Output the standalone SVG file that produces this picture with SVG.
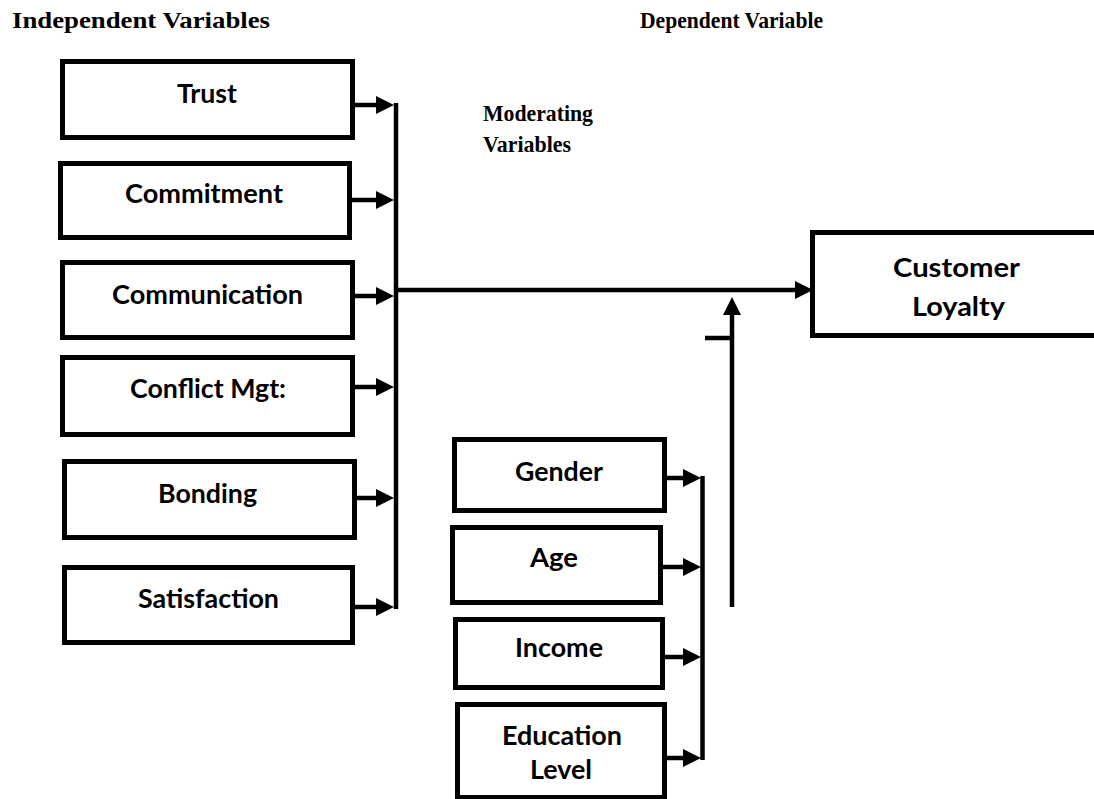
<svg xmlns="http://www.w3.org/2000/svg" width="1094" height="799" viewBox="0 0 1094 799">
<style>
.box{fill:#fff;stroke:#000;stroke-width:5}
.lbl{font-family:Lato,"Open Sans",sans-serif;font-weight:700;font-size:26px;fill:#000;text-anchor:middle}
.hdr{font-family:"Liberation Serif","Times New Roman",serif;font-weight:700;font-size:24px;fill:#000}
.con{fill:none;stroke:#000;stroke-width:4.5}
</style>
<defs>
<marker id="ah" viewBox="0 -10 19 20" markerWidth="19" markerHeight="20" refX="0" refY="0" markerUnits="userSpaceOnUse" orient="auto">
<polygon points="0,-9 18,0 0,9" fill="#000"/>
</marker>
</defs>
<rect width="1094" height="799" fill="#fff"/>

<g id="headers">
<text class="hdr" x="12" y="28" textLength="258" lengthAdjust="spacingAndGlyphs">Independent Variables</text>
<text class="hdr" x="640" y="28" textLength="183" lengthAdjust="spacingAndGlyphs">Dependent Variable</text>
<text class="hdr" x="483" y="121" textLength="110" lengthAdjust="spacingAndGlyphs">Moderating</text>
<text class="hdr" x="483" y="152" textLength="88" lengthAdjust="spacingAndGlyphs">Variables</text>
</g>

<g id="trust"><rect class="box" x="62.5" y="61.5" width="290" height="76"/><text class="lbl" x="207" y="103" textLength="60" lengthAdjust="spacingAndGlyphs">Trust</text></g>
<g id="commitment"><rect class="box" x="60.5" y="163.5" width="289" height="74"/><text class="lbl" x="204" y="203" textLength="158" lengthAdjust="spacingAndGlyphs">Commitment</text></g>
<g id="communication"><rect class="box" x="62.5" y="262.5" width="290" height="75"/><text class="lbl" x="207.5" y="304" textLength="191" lengthAdjust="spacingAndGlyphs">Communication</text></g>
<g id="conflict"><rect class="box" x="62.5" y="357.5" width="290" height="77"/><text class="lbl" x="208" y="398" textLength="156" lengthAdjust="spacingAndGlyphs">Conflict Mgt:</text></g>
<g id="bonding"><rect class="box" x="64.5" y="461.5" width="290" height="76"/><text class="lbl" x="207.5" y="503" textLength="99" lengthAdjust="spacingAndGlyphs">Bonding</text></g>
<g id="satisfaction"><rect class="box" x="64.5" y="567.5" width="288" height="75"/><text class="lbl" x="208.5" y="608" textLength="141" lengthAdjust="spacingAndGlyphs">Satisfaction</text></g>

<g id="gender"><rect class="box" x="454.5" y="439.5" width="210" height="71"/><text class="lbl" x="559" y="481" textLength="88" lengthAdjust="spacingAndGlyphs">Gender</text></g>
<g id="age"><rect class="box" x="452.5" y="527.5" width="208" height="75"/><text class="lbl" x="554" y="567" textLength="48" lengthAdjust="spacingAndGlyphs">Age</text></g>
<g id="income"><rect class="box" x="455.5" y="619.5" width="207" height="68"/><text class="lbl" x="559" y="657" textLength="88" lengthAdjust="spacingAndGlyphs">Income</text></g>
<g id="education"><rect class="box" x="457.5" y="704.5" width="207" height="93"/><text class="lbl" x="562" y="745" textLength="120" lengthAdjust="spacingAndGlyphs">Education</text><text class="lbl" x="561" y="779" textLength="62" lengthAdjust="spacingAndGlyphs">Level</text></g>

<g id="loyalty"><rect class="box" x="812.5" y="232.5" width="290" height="103"/><text class="lbl" x="956.5" y="277" textLength="127" lengthAdjust="spacingAndGlyphs">Customer</text><text class="lbl" x="958.5" y="316" textLength="93" lengthAdjust="spacingAndGlyphs">Loyalty</text></g>

<g id="connectors">
<path class="con" d="M355 105H376" marker-end="url(#ah)"/>
<path class="con" d="M352 200H376" marker-end="url(#ah)"/>
<path class="con" d="M355 296H376" marker-end="url(#ah)"/>
<path class="con" d="M355 387H376" marker-end="url(#ah)"/>
<path class="con" d="M357 498H376" marker-end="url(#ah)"/>
<path class="con" d="M355 607H376" marker-end="url(#ah)"/>
<path class="con" d="M396 103V609" stroke-width="5"/>
<path class="con" d="M396 290H795" marker-end="url(#ah)"/>
<path class="con" d="M667 478H683" marker-end="url(#ah)"/>
<path class="con" d="M663 567H683" marker-end="url(#ah)"/>
<path class="con" d="M660 657H683" marker-end="url(#ah)"/>
<path class="con" d="M667 758H683" marker-end="url(#ah)"/>
<path class="con" d="M702.5 476V760" stroke-width="4"/>
<path class="con" d="M732 607V315" marker-end="url(#ah)"/>
<path class="con" d="M705 338H732" stroke-width="4"/>
</g>
</svg>
